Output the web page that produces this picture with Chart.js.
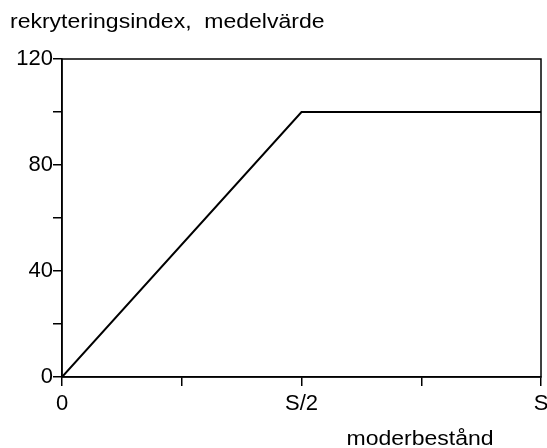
<!DOCTYPE html>
<html>
<head>
<meta charset="utf-8">
<script src="https://cdn.jsdelivr.net/npm/chart.js@4/dist/chart.umd.min.js"></script>
<style>
  html,body{margin:0;padding:0;background:#fff}
  #wrap{width:547px;height:448px;overflow:hidden}
</style>
</head>
<body>
<div id="wrap"><canvas id="chart" width="547" height="448"></canvas></div>
<script>
// data
const xValues = [0, 0.5, 1];          // moderbestånd as fraction of S
const yValues = [0, 100, 100];        // rekryteringsindex, medelvärde
const xTicks = [0, 0.25, 0.5, 0.75, 1];
const xTickLabels = ['0', '', 'S/2', '', 'S'];
const yTicks = [0, 20, 40, 60, 80, 100, 120];
const yTickLabels = ['0', '', '40', '', '80', '', '120'];
const yTitle = 'rekryteringsindex,  medelvärde';
const xTitle = 'moderbestånd';

const FONT = "'Liberation Sans', Arial, sans-serif";

// the source text is a bit wider than plain Arial, so stretch it horizontally
function wideText(ctx, text, x, y, align){
  const sx = 1.15;
  ctx.save();
  ctx.translate(x, y);
  ctx.scale(sx, 1);
  ctx.textAlign = align;
  ctx.fillText(text, 0, 0);
  ctx.restore();
}

const framePlugin = {
  id: 'frame',
  afterDraw(chart){
    const {ctx, chartArea:a} = chart;
    ctx.save();
    ctx.strokeStyle = '#000';
    ctx.lineWidth = 1.5;
    ctx.strokeRect(a.left, a.top, a.right - a.left, a.bottom - a.top);
    ctx.fillStyle = '#000';
    ctx.font = '20px ' + FONT;
    ctx.textBaseline = 'alphabetic';
    wideText(ctx, yTitle, 10, 28, 'left');
    wideText(ctx, xTitle, 420, 445, 'center');
    ctx.restore();
  }
};

new Chart(document.getElementById('chart'), {
  type: 'line',
  data: {
    datasets: [{
      data: xValues.map((x, i) => ({x, y: yValues[i]})),
      borderColor: '#000',
      borderWidth: 2,
      pointRadius: 0,
      tension: 0,
      fill: false
    }]
  },
  options: {
    responsive: false,
    animation: false,
    layout: { padding: { top: 59, left: 0, right: 6, bottom: 0 } },
    plugins: { legend: { display: false }, tooltip: { enabled: false } },
    scales: {
      x: {
        type: 'linear', min: 0, max: 1,
        afterBuildTicks: s => { s.ticks = xTicks.map(v => ({value: v})); },
        afterFit: s => { s.height = 71; s.paddingRight = 0; s.paddingLeft = 0; },
        ticks: {
          color: '#000', padding: 5, maxRotation: 0, autoSkip: false,
          font: { size: 22, family: FONT },
          callback: (v) => xTickLabels[xTicks.indexOf(v)] ?? ''
        },
        grid: { drawOnChartArea: false, drawTicks: true, tickLength: 9, color: '#000', lineWidth: 1.5 },
        border: { display: true, color: '#000', width: 1.5 }
      },
      y: {
        min: 0, max: 120,
        afterBuildTicks: s => { s.ticks = yTicks.map(v => ({value: v})); },
        afterFit: s => { s.width = 62; s.paddingTop = 0; s.paddingBottom = 0; },
        ticks: {
          color: '#000', padding: 0, autoSkip: false,
          font: { size: 22, family: FONT },
          callback: (v) => yTickLabels[yTicks.indexOf(v)] ?? ''
        },
        grid: { drawOnChartArea: false, drawTicks: true, tickLength: 9, color: '#000', lineWidth: 1.5 },
        border: { display: true, color: '#000', width: 1.5 }
      }
    }
  },
  plugins: [framePlugin]
});
</script>
</body>
</html>
